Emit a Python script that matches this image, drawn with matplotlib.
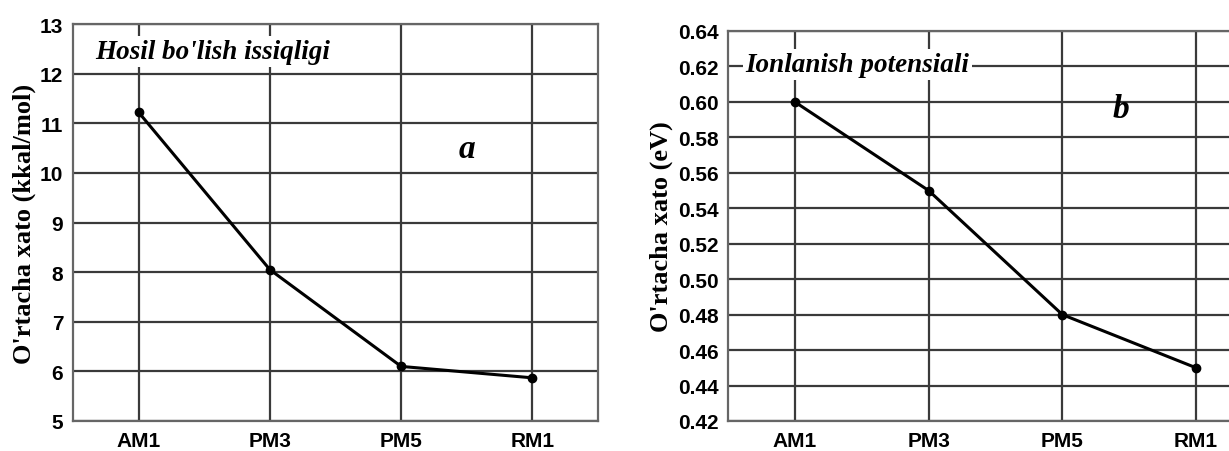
import matplotlib.pyplot as plt

# data
methods = ["AM1", "PM3", "PM5", "RM1"]
heat_err = [11.22, 8.05, 6.10, 5.87]
ion_err = [0.600, 0.550, 0.480, 0.450]

heat_ticks = [5, 6, 7, 8, 9, 10, 11, 12, 13]
ion_ticks = [0.42, 0.44, 0.46, 0.48, 0.50, 0.52, 0.54, 0.56, 0.58, 0.60, 0.62, 0.64]

grid_col = "#3a3a3a"
tick_font = dict(family="Liberation Sans", weight="bold", size=15)
serif_bold = dict(family="Liberation Serif", weight="bold", size=19)
serif_bi = dict(family="Liberation Serif", weight="bold", style="italic", size=19.5)

fig = plt.figure(figsize=(12.29, 4.52), dpi=100)
ax1 = fig.add_axes([73/1229, 1-422/452, 525/1229, 397/452])
ax2 = fig.add_axes([728/1229, 1-422/452, 535/1229, 390/452])

def style(ax, ticks, fmt):
    x = range(len(methods))
    ax.set_xlim(-0.5, len(methods) - 0.5)
    ax.set_ylim(ticks[0], ticks[-1])
    ax.set_xticks(list(x))
    ax.set_xticklabels(methods, fontdict=tick_font)
    ax.set_yticks(ticks)
    ax.set_yticklabels([fmt.format(t) for t in ticks], fontdict=tick_font)
    ax.grid(True, color=grid_col, lw=1.6)
    ax.set_axisbelow(True)
    ax.tick_params(length=0, pad=7)
    for s in ax.spines.values():
        s.set_color("#666666")
        s.set_linewidth(1.6)

style(ax1, heat_ticks, "{:d}")
style(ax2, ion_ticks, "{:.2f}")

ax1.plot(range(len(methods)), heat_err, color="black", lw=2.2,
         marker="o", ms=6, zorder=3)
ax2.plot(range(len(methods)), ion_err, color="black", lw=2.2,
         marker="o", ms=6, zorder=3)

ax1.set_ylabel("O'rtacha xato (kkal/mol)", fontdict=serif_bold, labelpad=3)
ax2.set_ylabel("O'rtacha xato (eV)", fontdict=serif_bold, labelpad=3)

ax1.text(-0.33, 12.45, "Hosil bo'lish issiqligi", fontdict=serif_bi,
         va="center", ha="left",
         bbox=dict(facecolor="white", edgecolor="none", pad=2))
ax2.text(-0.37, 0.621, "Ionlanish potensiali", fontdict=serif_bi,
         va="center", ha="left",
         bbox=dict(facecolor="white", edgecolor="none", pad=2))

ax1.text(2.5, 10.5, "a", fontdict=dict(family="Liberation Serif", weight="bold",
         style="italic", size=24), ha="center", va="center")
ax2.text(2.44, 0.596, "b", fontdict=dict(family="Liberation Serif", weight="bold",
         style="italic", size=24), ha="center", va="center")

fig.savefig("out.png", dpi=100)
